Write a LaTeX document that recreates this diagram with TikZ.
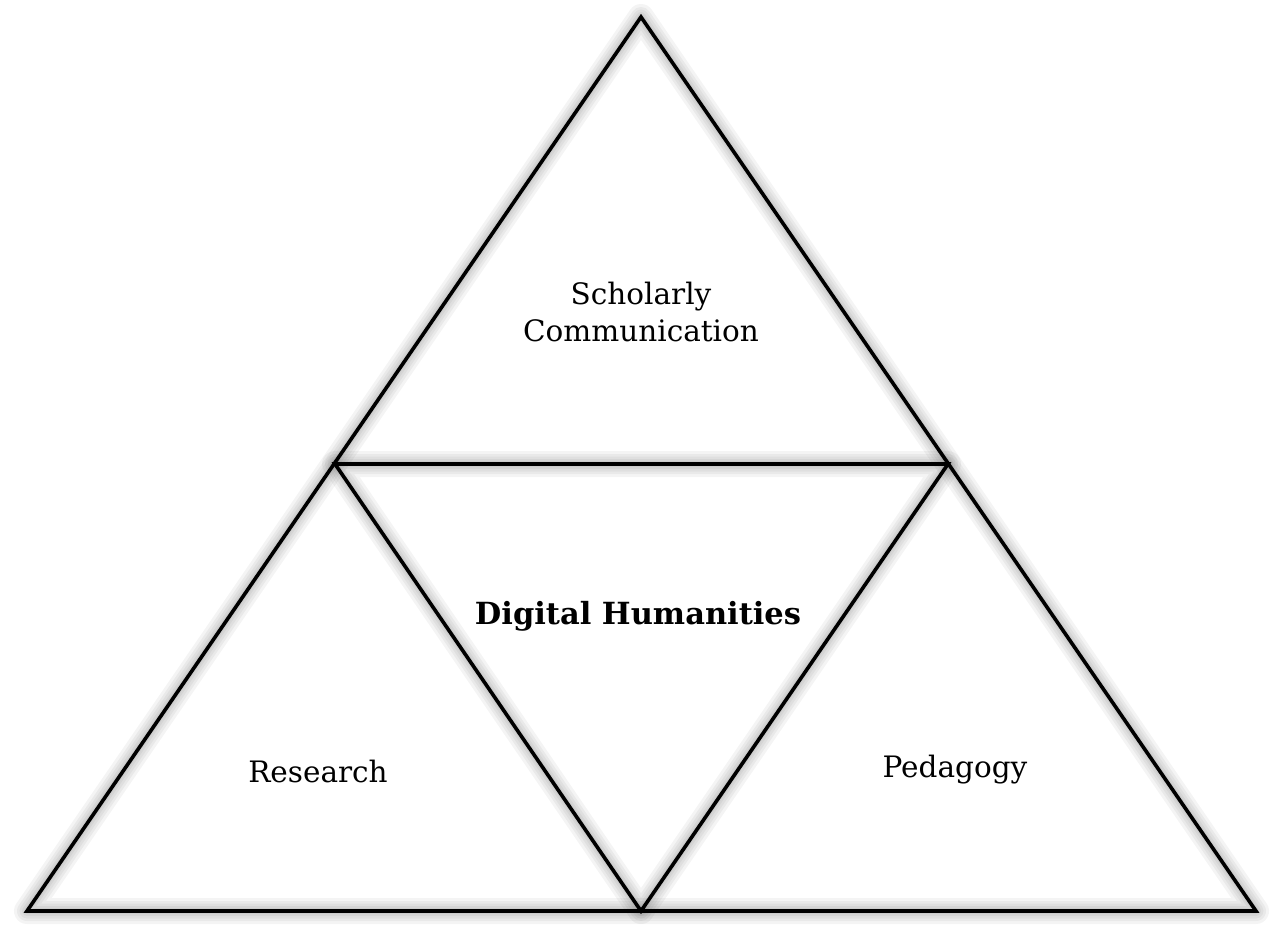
\documentclass[tikz,border=0pt]{standalone}
\usepackage{fontspec}
\setmainfont{DejaVu Serif}
\begin{document}
\begin{tikzpicture}[x=1pt,y=-1pt,
  edge/.style={line width=3.6pt,line join=miter,line cap=butt},
  softshadow/.style={line width=#1,draw=black,draw opacity=0.045,line join=round},
  label/.style={font=\fontsize{29.5}{37}\selectfont,align=center,inner sep=0pt},
  boldlabel/.style={label,font=\fontsize{30.5}{37}\selectfont\bfseries}]
\useasboundingbox (0,0) rectangle (1281,945);
% corner points of the subdivided triangle
\coordinate (top) at (641,17);
\coordinate (bl) at (27,911);
\coordinate (br) at (1256,911);
\coordinate (ml) at (335,464);
\coordinate (mr) at (948,464);
\coordinate (mb) at (641,911);
% blurred drop shadow under every stroke
\foreach \w in {26pt,20pt,15pt,10pt,6pt}{
  \begin{scope}[yshift=-11pt]
    \draw[softshadow=\w] (top) -- (bl) -- (br) -- cycle;
    \draw[softshadow=\w] (ml) -- (mr) -- (mb) -- cycle;
  \end{scope}
}
% outlines
\draw[edge] (top) -- (bl) -- (br) -- cycle;
\draw[edge] (ml) -- (mr) -- (mb) -- cycle;
% labels
\node[label] (sc) at (641,312) {Scholarly\\Communication};
\node[boldlabel] (dh) at (638,616) {Digital Humanities};
\node[label] (re) at (318,771) {Research};
\node[label] (pe) at (955,770) {Pedagogy};
\end{tikzpicture}
\end{document}
